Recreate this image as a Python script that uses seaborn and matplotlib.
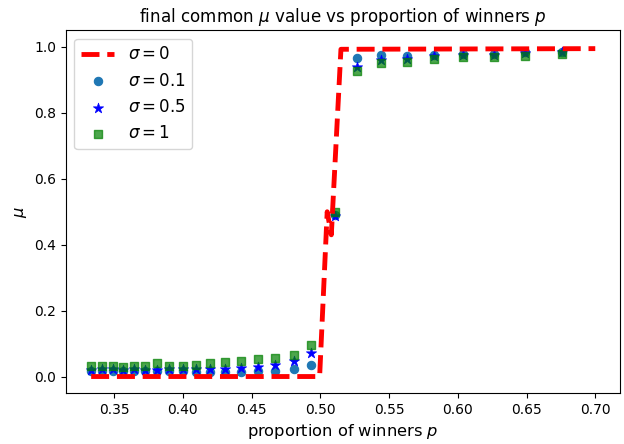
import numpy as np
import pandas as pd
import matplotlib
matplotlib.use("Agg")
import matplotlib.pyplot as plt
import seaborn as sns

# proportion of winners p (marker series)
p_vals = [0.3333, 0.3415, 0.3490, 0.3566, 0.3645, 0.3727, 0.3813, 0.3900,
          0.3998, 0.4094, 0.4200, 0.4310, 0.4420, 0.4545, 0.4670, 0.4810,
          0.4930, 0.5108, 0.5270, 0.5440, 0.5630, 0.5830, 0.6040, 0.6260,
          0.6490, 0.6760]

mu_s01 = [0.017, 0.017, 0.017, 0.017, 0.017, 0.017, 0.016, 0.016, 0.016, 0.015,
          0.014, 0.015, 0.015, 0.016, 0.018, 0.024, 0.036, 0.490, 0.966, 0.977,
          0.974, 0.975, 0.978, 0.980, 0.986, 0.985]
mu_s05 = [0.021, 0.022, 0.022, 0.021, 0.022, 0.021, 0.021, 0.022, 0.022, 0.022,
          0.024, 0.024, 0.027, 0.030, 0.034, 0.047, 0.072, 0.486, 0.938, 0.960,
          0.963, 0.974, 0.977, 0.977, 0.982, 0.986]
mu_s1 = [0.033, 0.031, 0.031, 0.030, 0.033, 0.031, 0.040, 0.033, 0.033, 0.035,
         0.040, 0.043, 0.047, 0.054, 0.057, 0.064, 0.095, 0.498, 0.926, 0.950,
         0.955, 0.963, 0.969, 0.971, 0.974, 0.979]

# sigma = 0 curve
p_line = [0.3333, 0.4995, 0.5050, 0.5080, 0.5150, 0.7000]
mu_line = [0.0, 0.0, 0.50, 0.43, 0.993, 0.995]

labels = [r'$\sigma=0$', r'$\sigma=0.1$', r'$\sigma=0.5$', r'$\sigma=1$']

fig = plt.figure(figsize=(6.24, 4.44), dpi=100)
ax = fig.add_axes([66/624, 1-393/444, (620-66)/624, (393-30.5)/444])

df_line = pd.DataFrame({"p": p_line, "mu": mu_line})
sns.lineplot(data=df_line, x="p", y="mu", sort=False, estimator=None, ax=ax,
             color="red", linestyle="--", linewidth=3.5, label=labels[0], zorder=4)

df1 = pd.DataFrame({"p": p_vals, "mu": mu_s01})
sns.scatterplot(data=df1, x="p", y="mu", ax=ax, marker="o", s=36,
                color="#1f77b4", edgecolor="#1f77b4", linewidth=0.8, label=labels[1])
df5 = pd.DataFrame({"p": p_vals, "mu": mu_s05})
sns.scatterplot(data=df5, x="p", y="mu", ax=ax, marker="*", s=60,
                color="blue", edgecolor="blue", linewidth=0.5, label=labels[2])
df10 = pd.DataFrame({"p": p_vals, "mu": mu_s1})
sns.scatterplot(data=df10, x="p", y="mu", ax=ax, marker="s", s=36,
                color="green", edgecolor="green", alpha=0.7, linewidth=1.0, label=labels[3])

ax.set_xlim(0.3150, 0.7180)
ax.set_ylim(-0.05, 1.05)
ax.set_xticks([0.35, 0.40, 0.45, 0.50, 0.55, 0.60, 0.65, 0.70])
ax.set_yticks([0.0, 0.2, 0.4, 0.6, 0.8, 1.0])
ax.tick_params(labelsize=10)
ax.set_xlabel(r'proportion of winners $p$', fontsize=11.7)
ax.set_ylabel(r'$\mu$', fontsize=11.7)
ax.set_title(r'final common $\mu$ value vs proportion of winners $p$', fontsize=12.1)
ax.legend(loc="upper left", fontsize=12)

fig.savefig("out.png", dpi=100)
